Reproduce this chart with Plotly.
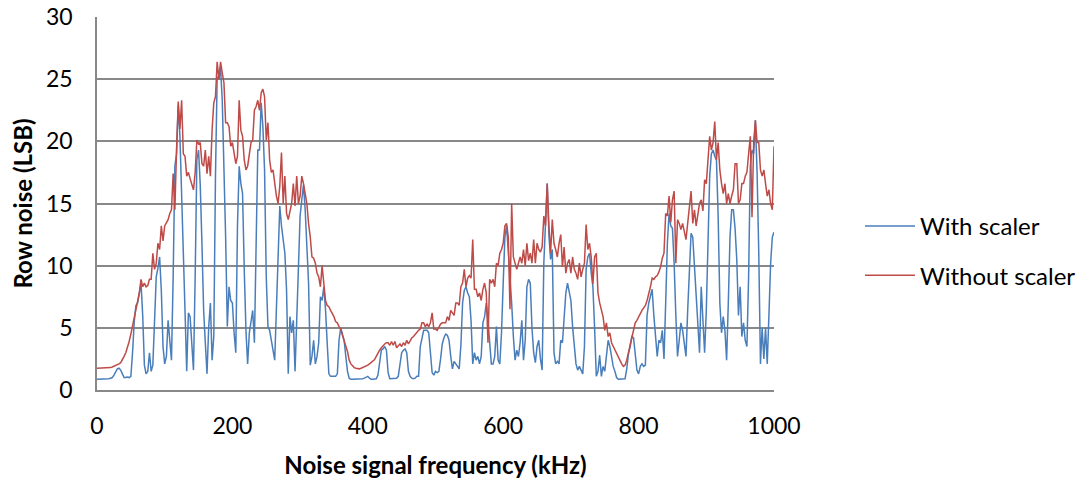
import plotly.graph_objects as go

# frequency grid, kHz (2.5 kHz steps)
freq_khz = [i * 2.5 for i in range(401)]

with_scaler = [
    0.86, 0.86, 0.86, 0.86, 0.86, 0.9, 0.9, 0.9, 0.95, 1.0,
    1.2, 1.5, 1.7, 1.75, 1.6, 1.3, 1.0, 1.0, 1.05, 1.0,
    1.1, 3.0, 5.5, 6.8, 7.0, 7.8, 8.6, 6.0, 2.0, 1.3,
    1.5, 3.0, 1.5, 2.0, 6.0, 9.1, 9.8, 10.7, 8.0, 3.5,
    2.1, 2.7, 5.6, 3.8, 2.4, 9.1, 18.0, 19.0, 22.9, 20.4,
    15.0, 11.8, 6.4, 1.5, 6.2, 5.9, 3.8, 1.6, 9.1, 18.5,
    19.3, 16.5, 11.8, 6.4, 3.8, 1.3, 5.1, 7.0, 2.4, 4.3,
    17.2, 25.2, 25.0, 25.9, 23.3, 18.5, 12.3, 5.1, 8.3, 7.2,
    7.0, 4.6, 3.0, 13.2, 18.0, 16.6, 15.8, 9.7, 4.8, 2.1,
    4.6, 5.5, 6.4, 3.8, 13.2, 19.3, 19.3, 23.1, 21.2, 17.7,
    9.1, 5.1, 4.8, 3.8, 3.2, 2.4, 7.0, 11.3, 14.8, 13.2,
    11.8, 11.0, 8.0, 1.3, 5.9, 4.6, 5.6, 1.5, 5.6, 10.5,
    14.0, 15.3, 16.5, 14.5, 11.3, 8.6, 2.0, 2.7, 4.0, 2.1,
    2.7, 3.8, 7.5, 7.2, 8.3, 6.5, 3.8, 1.3, 1.1, 1.1,
    1.1, 1.1, 1.3, 4.0, 5.0, 4.5, 4.0, 2.7, 1.5, 0.95,
    0.86, 0.86, 0.86, 0.86, 0.86, 0.86, 0.86, 0.9, 0.95, 1.05,
    1.1, 0.95, 0.86, 0.86, 0.86, 0.9, 1.2, 2.1, 3.2, 3.3,
    3.5, 3.2, 1.4, 0.9, 0.9, 0.95, 0.9, 0.95, 1.1, 2.1,
    3.0, 3.2, 3.3, 3.0, 1.5, 1.1, 0.95, 0.9, 0.95, 1.1,
    1.1, 3.5, 4.3, 4.8, 4.8, 4.8, 4.6, 3.0, 1.4, 1.2,
    1.5, 1.4, 1.5, 2.5, 3.7, 4.2, 4.5, 4.4, 4.0, 2.7,
    1.7, 2.3, 2.1, 1.9, 1.7, 3.6, 7.0, 8.0, 8.3, 7.8,
    7.5, 5.6, 2.1, 3.0, 2.4, 2.7, 2.1, 2.7, 5.4, 5.9,
    7.0, 5.6, 3.5, 2.1, 2.1, 2.7, 5.1, 2.4, 2.1, 4.6,
    8.6, 12.3, 13.2, 11.3, 9.1, 7.0, 4.3, 2.4, 3.2, 2.7,
    3.8, 5.6, 2.4, 4.0, 8.3, 8.9, 8.6, 5.0, 3.0, 2.2,
    3.5, 4.0, 2.5, 1.6, 10.2, 13.0, 16.6, 12.5, 10.5, 11.3,
    3.0, 2.1, 2.3, 2.1, 4.0, 3.8, 5.6, 7.8, 8.6, 7.8,
    7.2, 5.1, 3.8, 2.1, 1.6, 1.9, 1.6, 1.3, 3.5, 9.7,
    10.7, 11.0, 9.4, 8.3, 5.0, 1.1, 1.5, 2.8, 1.1, 1.9,
    1.5, 2.7, 4.0, 3.5, 2.5, 1.9, 1.5, 1.0, 0.86, 0.86,
    0.86, 0.86, 0.9, 1.7, 2.9, 3.5, 4.3, 4.2, 2.7, 1.6,
    1.3, 1.9, 2.1, 1.9, 2.0, 6.0, 7.0, 7.5, 8.1, 6.0,
    4.0, 2.7, 4.0, 3.8, 4.8, 2.5, 7.0, 11.8, 14.2, 13.2,
    13.0, 10.2, 6.0, 2.7, 4.0, 5.4, 4.8, 3.5, 2.7, 6.4,
    10.2, 12.6, 12.3, 9.7, 7.2, 5.4, 3.0, 8.3, 5.1, 3.0,
    6.4, 13.0, 17.2, 19.0, 19.3, 18.8, 18.5, 14.0, 7.0, 4.6,
    5.9, 4.8, 2.4, 7.0, 12.3, 14.5, 14.5, 13.0, 10.5, 6.0,
    8.3, 4.3, 5.4, 4.0, 3.5, 9.1, 18.0, 19.3, 19.0, 21.7,
    17.5, 11.0, 2.1, 5.0, 2.5, 5.0, 2.1, 6.0, 10.2, 12.3,
    12.7,
]

without_scaler = [
    1.75, 1.75, 1.75, 1.75, 1.75, 1.75, 1.8, 1.8, 1.8, 1.85,
    1.9, 1.95, 2.0, 2.1, 2.2, 2.4, 2.7, 3.0, 3.4, 3.9,
    4.5, 5.2, 5.8, 6.7, 7.2, 7.8, 8.9, 8.3, 8.6, 8.3,
    8.4, 8.9, 8.9, 11.0, 9.7, 10.2, 11.8, 11.3, 13.2, 12.0,
    13.2, 13.5, 13.7, 14.2, 14.5, 17.4, 14.5, 19.3, 23.2, 21.0,
    23.3, 19.0, 18.8, 17.2, 17.5, 17.0, 16.6, 16.1, 17.5, 20.1,
    19.8, 19.9, 18.2, 18.0, 19.3, 17.4, 18.8, 17.2, 20.9, 23.1,
    23.6, 26.4, 25.0, 26.4, 25.5, 24.7, 21.5, 21.5, 21.2, 19.6,
    19.9, 19.1, 18.2, 18.8, 23.3, 20.9, 20.4, 18.5, 17.7, 18.0,
    19.1, 19.9, 20.1, 22.5, 22.8, 23.3, 22.5, 23.9, 24.2, 23.6,
    20.1, 21.5, 18.5, 17.5, 17.7, 16.4, 15.6, 15.0, 16.4, 19.1,
    15.0, 17.2, 14.2, 13.7, 14.5, 15.0, 16.6, 14.8, 17.2, 15.0,
    15.6, 17.2, 16.6, 15.6, 15.0, 13.4, 12.3, 10.7, 10.6, 10.2,
    9.4, 9.1, 8.3, 10.0, 8.2, 7.2, 6.8, 6.7, 6.4, 6.2,
    5.9, 5.5, 5.4, 5.1, 4.9, 4.4, 4.0, 3.5, 3.1, 2.4,
    2.1, 1.95, 1.8, 1.75, 1.7, 1.7, 1.75, 1.8, 1.85, 1.9,
    2.0, 2.1, 2.2, 2.3, 2.45, 2.7, 3.0, 3.2, 3.4, 3.6,
    3.7, 3.8, 3.8, 3.6, 3.9, 3.6, 3.9, 3.4, 3.6, 3.7,
    3.5, 3.8, 3.6, 4.0, 3.7, 4.0, 4.2, 4.3, 4.5, 4.6,
    4.8, 4.9, 5.4, 5.4, 5.1, 5.3, 5.1, 5.4, 6.2, 4.9,
    4.9, 4.8, 5.1, 5.3, 5.4, 5.4, 5.4, 5.9, 5.6, 6.4,
    6.2, 6.0, 7.0, 7.0, 6.8, 8.3, 8.6, 9.7, 8.3, 9.0,
    9.2, 9.0, 12.1, 8.1, 8.1, 7.5, 7.8, 7.2, 8.1, 8.6,
    7.8, 3.8, 8.9, 8.6, 8.9, 8.3, 10.2, 10.0, 11.0, 11.3,
    11.8, 13.2, 13.4, 12.3, 6.5, 15.0, 10.7, 10.2, 9.7, 10.2,
    10.7, 10.2, 11.3, 10.0, 11.8, 10.4, 11.0, 10.2, 12.1, 10.2,
    11.8, 11.3, 11.1, 11.5, 14.0, 13.2, 16.6, 13.2, 11.0, 13.7,
    11.8, 11.3, 10.7, 11.8, 12.5, 9.9, 11.5, 9.4, 10.2, 10.5,
    9.4, 10.7, 9.7, 9.4, 8.9, 10.2, 9.1, 9.7, 10.2, 13.3,
    11.3, 11.8, 10.7, 8.5, 10.7, 11.0, 7.8, 7.0, 6.4, 5.9,
    4.8, 5.4, 4.3, 4.6, 3.8, 3.5, 3.2, 2.9, 2.6, 2.3,
    2.1, 1.9, 2.0, 2.4, 2.9, 3.6, 4.2, 4.8, 5.4, 5.6,
    5.9, 6.1, 6.4, 6.6, 6.8, 7.2, 7.7, 8.3, 9.0, 8.9,
    9.1, 9.2, 9.5, 9.9, 10.6, 11.0, 14.2, 14.0, 15.6, 13.5,
    15.3, 16.0, 10.2, 13.7, 13.4, 12.9, 13.4, 12.6, 12.1, 13.4,
    14.8, 16.0, 13.4, 14.5, 13.2, 14.0, 15.0, 15.3, 14.4, 16.9,
    16.6, 18.5, 20.4, 19.3, 19.9, 21.6, 18.5, 19.9, 17.7, 16.6,
    15.8, 16.6, 15.0, 15.8, 15.0, 15.6, 16.1, 18.2, 18.2, 15.0,
    15.3, 16.6, 16.6, 17.2, 17.5, 19.0, 20.4, 13.9, 19.9, 21.7,
    19.9, 19.9, 17.7, 17.2, 17.7, 16.6, 15.6, 16.1, 15.0, 14.5,
    19.6,
]

series_names = ["With scaler", "Without scaler"]
series_colors = ["#4A7EBB", "#BE4B48"]

FONT = "Lato"

fig = go.Figure()
for name, vals, col in zip(series_names, [with_scaler, without_scaler], series_colors):
    fig.add_trace(go.Scatter(
        x=freq_khz, y=vals, mode="lines", name=name,
        legendgroup=name,
        line=dict(color=col, width=1.5),
    ))

fig.update_layout(
    width=1088, height=481,
    margin=dict(l=97, r=314, t=17, b=91, autoexpand=False),
    paper_bgcolor="white", plot_bgcolor="white",
    font=dict(family=FONT, color="#000000", size=23),
    showlegend=True,
    legend=dict(
        x=1.127, xanchor="left", y=(390 - 204) / 373, yanchor="top",
        font=dict(family=FONT, size=24, color="#000000"),
        traceorder="grouped", tracegroupgap=15,
        bgcolor="rgba(0,0,0,0)", itemwidth=50,
    ),
    xaxis=dict(
        range=[0, 1000], dtick=200, tick0=0,
        showgrid=False, zeroline=False, automargin=False,
        showline=True, linecolor="#888888", linewidth=1.5,
        ticks="", ticklabelstandoff=15,
        tickfont=dict(family=FONT, size=23),
        title=dict(text="<b>Noise signal frequency (kHz)</b>",
                   font=dict(family=FONT, size=24), standoff=19),
    ),
    yaxis=dict(
        range=[0, 30], dtick=5, tick0=0,
        showgrid=True, gridcolor="#888888", gridwidth=1.5,
        zeroline=False, automargin=False,
        showline=True, linecolor="#888888", linewidth=1.5,
        ticks="", ticklabelstandoff=18,
        tickfont=dict(family=FONT, size=23),
        title=dict(text="<b>Row noise (LSB)</b>",
                   font=dict(family=FONT, size=24), standoff=7),
    ),
)

fig.write_html("out.html")
